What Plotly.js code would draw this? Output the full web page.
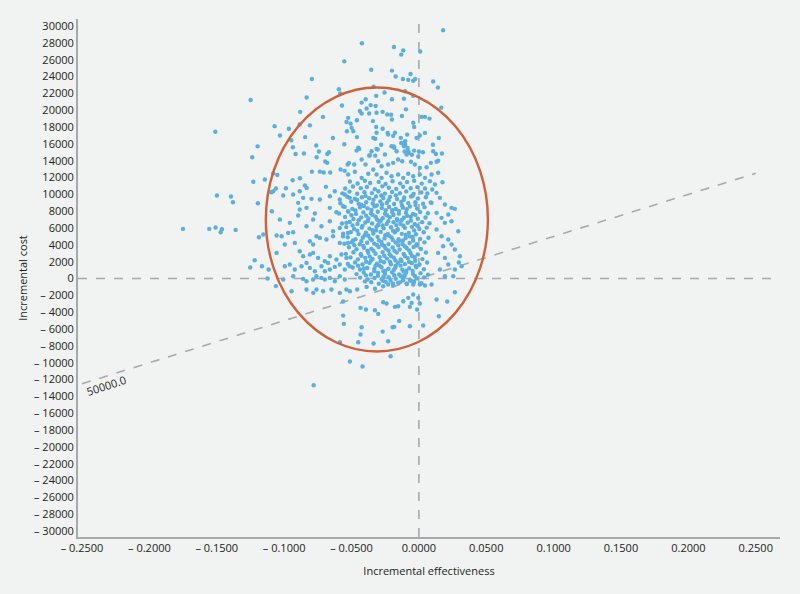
<!DOCTYPE html>
<html>
<head>
<meta charset="utf-8">
<script src="https://cdn.plot.ly/plotly-3.0.1.min.js"></script>
<style>
  html, body { margin: 0; padding: 0; background: #f1f2f2; }
  #plane { width: 800px; height: 594px; }
</style>
</head>
<body>
<div id="plane"></div>
<script>
// bootstrap replicates: [incremental effectiveness, incremental cost]
var outlierPts = [
    [-0.1751, 5900], [-0.1556, 5900], [-0.1509, 6060], [-0.1462, 5860], [-0.1471, 5500],
    [-0.136, 5780], [-0.1187, 4900], [-0.1155, 5230], [-0.1219, 2170], [-0.1252, 1310],
    [-0.1165, 1460], [-0.1115, 1070], [-0.1123, 0], [-0.1249, 21200], [-0.1511, 17430],
    [-0.1197, 15700], [-0.1237, 14400], [-0.1229, 11500], [-0.1143, 11760], [-0.1499, 9860],
    [-0.1395, 9740], [-0.138, 9070], [-0.1195, 8950], [-0.1081, 12500], [-0.1051, 12300],
    [-0.1061, 10700], [-0.1096, 10250], [-0.1091, 8000], [-0.1061, -900]
];

var upperPts = [
    [0.018, 29500], [-0.0423, 27950], [-0.0185, 27500], [-0.0116, 27100], [-0.0131, 26600],
    [0.001, 26970], [-0.0554, 25800], [-0.0354, 24800], [-0.02, 24700], [-0.0062, 24300],
    [-0.0173, 24000], [-0.0119, 23700], [-0.0079, 23600], [-0.0042, 23500], [-0.0027, 23700],
    [0.0106, 23400], [0.0141, 22700], [-0.0794, 23700], [-0.0594, 22500], [-0.0584, 22000],
    [-0.0336, 22800], [-0.0833, 21500], [-0.0881, 19800], [-0.1071, 18100], [-0.0965, 17800],
    [-0.1031, 17000], [-0.0885, 18300], [-0.0809, 18200], [-0.0712, 19200], [-0.0844, 16800],
    [-0.0935, 15600], [-0.0915, 14800], [-0.0853, 14850], [-0.0762, 15800], [-0.0742, 15100],
    [-0.0759, 14400], [-0.068, 14800], [-0.0668, 15000], [-0.0638, 16700], [-0.0554, 15950],
    [-0.0695, 13900], [-0.0794, 12700], [-0.0735, 12700], [-0.0707, 12600], [-0.0658, 12600],
    [-0.0571, 20550], [-0.0395, 21300], [-0.0317, 21700], [-0.0255, 22100], [-0.02, 21300],
    [-0.0111, 21350], [-0.0102, 22250], [-0.0042, 21700], [-0.0425, 20900], [-0.0388, 20200],
    [-0.0358, 20600], [-0.0321, 20500], [-0.0314, 19700], [-0.0369, 19600], [-0.0438, 19900],
    [-0.0425, 19600], [-0.0269, 19800], [-0.0235, 19500], [-0.0206, 19450], [-0.02, 18900],
    [-0.0126, 19300], [-0.0096, 20100], [-0.0341, 18700], [-0.0317, 18000], [-0.046, 18800],
    [-0.0537, 18600], [-0.0507, 18400], [-0.0534, 17500], [-0.0487, 17500], [-0.046, 16800],
    [-0.0042, 18500], [-0.0035, 18000], [0.002, 19200], [0.0045, 19200], [0.0079, 19000],
    [0.0045, 17300], [0.0007, 17000], [0.0148, 16700], [0.0166, 20300], [0.0104, 15900],
    [0.0171, 14850], [0.0126, 14800], [0.0143, 14000], [-0.0269, 17800], [-0.0232, 17300],
    [-0.0191, 16950], [-0.0087, 17100], [-0.0102, 16300], [-0.0111, 15700], [-0.0324, 16600],
    [-0.028, 15900], [-0.0314, 15400], [-0.0185, 15700], [-0.0131, 16100], [-0.0102, 15900],
    [-0.0084, 15500], [-0.0106, 15100], [-0.0076, 14900], [-0.0035, 15200], [0.0, 15100],
    [0.003, 15000], [-0.0005, 14500], [-0.0052, 14700], [-0.0443, 15400], [-0.0462, 15200],
    [-0.0369, 14600], [-0.0324, 14600], [-0.0947, 16430], [-0.068, 13740], [-0.0529, 13540],
    [-0.0581, 12950], [-0.0551, 12790], [-0.0937, 11680], [-0.0883, 11920], [-0.0846, 11050],
    [-0.0833, 10770], [-0.0987, 10730], [-0.069, 10890], [-0.0525, 19090], [-0.0499, 17900],
    [-0.0339, 16710], [-0.0314, 17310], [-0.0228, 17100], [-0.0178, 17310], [-0.0134, 16710],
    [-0.0017, 16710], [-0.045, 15530], [-0.0351, 15120], [-0.0306, 15320], [-0.0203, 15720],
    [-0.0183, 15530], [-0.0165, 15120], [-0.0116, 16000], [-0.0079, 15120], [-0.0091, 14730],
    [-0.0252, 14730], [-0.0364, 14650], [0.0106, 15120], [-0.0519, 13740], [-0.048, 13540],
    [-0.0425, 14140], [-0.0396, 13540], [-0.0302, 13940], [-0.0277, 13340], [-0.0228, 13540],
    [-0.0191, 13740], [-0.0154, 14140], [-0.0124, 13940], [-0.0059, 13870], [-0.003, 13540],
    [0.0007, 13150], [0.0057, 13220], [0.0089, 13740], [0.0131, 13870], [-0.0525, 12360],
    [-0.0475, 12680], [-0.0425, 11960], [-0.0376, 12440], [-0.0339, 12950], [-0.0314, 12360],
    [-0.0277, 11960], [-0.024, 12560], [-0.0203, 12150], [-0.0154, 12360], [-0.0116, 11960],
    [-0.0079, 12440], [-0.0042, 12150], [0.0007, 12360], [0.0045, 11960], [0.0094, 12360],
    [0.0143, 12560]
];

var leftPts = [
    [-0.1081, 10375], [-0.1007, 9860], [-0.0933, 9980], [-0.0884, 10375], [-0.0859, 9583],
    [-0.0896, 8989], [-0.0834, 8395], [-0.0797, 9464], [-0.0735, 9385], [-0.0661, 9780],
    [-0.0624, 10375], [-0.0587, 9385], [-0.055, 9980], [-0.0513, 9583], [-0.1032, 7009],
    [-0.0884, 8197], [-0.0896, 7484], [-0.0772, 7722], [-0.0785, 7009], [-0.0661, 8395],
    [-0.0612, 7880], [-0.0563, 8593], [-0.0526, 8000], [-0.0958, 6613], [-0.0834, 6217],
    [-0.0723, 6217], [-0.0661, 6811], [-0.0637, 5623], [-0.0587, 6019], [-0.0538, 6613],
    [-0.0526, 5425], [-0.1056, 5108], [-0.1019, 5029], [-0.097, 5425], [-0.0933, 5504],
    [-0.0921, 4237], [-0.0995, 4039], [-0.0809, 4435], [-0.0785, 4039], [-0.076, 5029],
    [-0.0735, 4831], [-0.0686, 4633], [-0.0637, 5029], [-0.0587, 4237], [-0.0563, 5029],
    [-0.0526, 4237], [-0.1056, 3049], [-0.0995, 1465], [-0.0884, 3247], [-0.0859, 2653],
    [-0.0809, 2851], [-0.0785, 3049], [-0.0748, 2455], [-0.0698, 2059], [-0.0674, 1861],
    [-0.0661, 2653], [-0.0612, 2257], [-0.0575, 2851], [-0.0538, 2455], [-0.0958, 1663],
    [-0.0921, 1069], [-0.0871, 1465], [-0.0834, 1861], [-0.0809, 1267], [-0.0772, 871],
    [-0.0723, 1465], [-0.0698, 871], [-0.0661, 1069], [-0.0624, 1386], [-0.0587, 1663],
    [-0.055, 1069], [-0.0513, 1465], [-0.1007, -119], [-0.0933, 277], [-0.0859, -40],
    [-0.0834, -317], [-0.0785, -119], [-0.076, 277], [-0.0723, 79], [-0.0698, -119],
    [-0.0661, 79], [-0.0624, -317], [-0.0587, 277], [-0.055, -119], [-0.0945, -1505],
    [-0.0834, -1307], [-0.076, -1307], [-0.0711, -1505], [-0.0649, -1307], [-0.0587, -1703],
    [-0.0538, -1307], [-0.0784, -1700]
];

var lowerPts = [
    [-0.0512, -1510], [-0.0458, -1307], [-0.0388, -990], [-0.0326, -1220], [-0.0265, -910],
    [-0.0228, -710], [-0.0191, -830], [-0.0154, -510], [-0.0091, -590], [-0.0042, -710],
    [0.0007, -710], [0.0045, -830], [0.0094, -710], [-0.0562, -2730], [-0.0433, -3480],
    [-0.0393, -3680], [-0.0326, -3770], [-0.0302, -4200], [-0.0265, -2810], [-0.024, -2970],
    [-0.0178, -3360], [-0.0154, -3290], [-0.0116, -2700], [-0.0079, -2290], [-0.0042, -1900],
    [-0.0054, -2890], [-0.0067, -3360], [-0.0005, -2290], [0.0007, -2970], [-0.0013, -3680],
    [0.0131, -2490], [0.021, -2730], [0.0267, -1630], [0.0148, -4480], [-0.0562, -4400],
    [-0.0557, -5380], [-0.0425, -5790], [-0.0433, -6650], [-0.0269, -6300], [-0.0195, -5790],
    [-0.0183, -5740], [-0.0146, -5030], [-0.0067, -5670], [0.0032, -5580], [-0.045, -7570],
    [-0.0586, -7570], [-0.0336, -7720], [-0.0228, -7450], [-0.021, -9230], [-0.0512, -9860],
    [-0.0418, -10450], [-0.0781, -12680]
];

var rightPts = [
    [0.0082, 11563], [0.0119, 11167], [0.0175, 11444], [0.0099, 10573], [0.0131, 10177],
    [0.0156, 9583], [0.0094, 8989], [0.0193, 8791], [0.0242, 8395], [0.0267, 8276],
    [0.0131, 7801], [0.0168, 7207], [0.0218, 7603], [0.0193, 6613], [0.0242, 6811],
    [0.0292, 5623], [0.0131, 5821], [0.0168, 5029], [0.0218, 4633], [0.018, 3841],
    [0.0242, 4039], [0.0267, 3445], [0.0143, 3049], [0.0193, 2455], [0.0304, 2653],
    [0.0218, 1663], [0.0156, 1069], [0.0267, 1069], [0.0317, 1465], [0.0193, 277],
    [0.0255, 277], [0.0297, 1900]
];

var corePts = [
    [-0.0512, 11520], [-0.0455, 11290], [-0.0401, 11610], [-0.0362, 11350], [-0.0298, 11480], [-0.0247, 11230],
    [-0.0196, 11560], [-0.0139, 11310], [-0.0088, 11470], [-0.0035, 11620], [0.0021, 11280],
    [-0.0547, 10690], [-0.0489, 10930], [-0.0431, 10740], [-0.0386, 10880], [-0.0327, 10620], [-0.0271, 10950],
    [-0.0223, 10780], [-0.0168, 10650], [-0.0117, 10910], [-0.0061, 10730], [-0.0012, 10860], [0.0046, 10690],
    [-0.0568, 10120], [-0.0515, 10330], [-0.0458, 10080], [-0.0404, 10260], [-0.0349, 10150], [-0.0301, 10370],
    [-0.0252, 10090], [-0.0199, 10280], [-0.0141, 10140], [-0.0094, 10350], [-0.0039, 10060], [0.0018, 10230], [0.0063, 10110],
    [-0.0531, 9710], [-0.0476, 9480], [-0.0423, 9650], [-0.0369, 9530], [-0.0318, 9760], [-0.0264, 9570],
    [-0.0215, 9690], [-0.0162, 9440], [-0.0109, 9620], [-0.0058, 9740], [-0.0007, 9510], [0.0052, 9660],
    [-0.0583, 8940], [-0.0502, 9130], [-0.0447, 8870], [-0.0391, 9060], [-0.0342, 8920], [-0.0286, 9150],
    [-0.0238, 8980], [-0.0184, 8850], [-0.0131, 9110], [-0.0079, 8960], [-0.0026, 9070], [0.0031, 8890], [0.0088, 9040],
    [-0.0551, 8510], [-0.0494, 8280], [-0.0437, 8460], [-0.0381, 8330], [-0.0329, 8570], [-0.0275, 8370],
    [-0.0221, 8490], [-0.0172, 8260], [-0.0119, 8420], [-0.0067, 8550], [-0.0013, 8310], [0.0042, 8480],
    [-0.0592, 7730], [-0.0523, 7920], [-0.0467, 7680], [-0.0412, 7860], [-0.0356, 7750], [-0.0305, 7940],
    [-0.0251, 7690], [-0.0197, 7880], [-0.0149, 7710], [-0.0096, 7830], [-0.0044, 7670], [0.0009, 7900], [0.0067, 7760],
    [-0.0548, 7310], [-0.0486, 7080], [-0.0429, 7260], [-0.0375, 7130], [-0.0321, 7350], [-0.0268, 7170],
    [-0.0216, 7290], [-0.0163, 7060], [-0.0112, 7220], [-0.0061, 7340], [-0.0008, 7110], [0.0049, 7250],
    [-0.0571, 6530], [-0.0513, 6720], [-0.0456, 6480], [-0.0398, 6660], [-0.0347, 6550], [-0.0293, 6740],
    [-0.0239, 6490], [-0.0188, 6680], [-0.0136, 6510], [-0.0083, 6630], [-0.0031, 6470], [0.0024, 6700], [0.0079, 6560],
    [-0.0539, 6110], [-0.0481, 5880], [-0.0424, 6060], [-0.0367, 5930], [-0.0315, 6150], [-0.0262, 5970],
    [-0.0207, 6090], [-0.0157, 5860], [-0.0104, 6020], [-0.0052, 6140], [0.0003, 5910], [0.0058, 6050],
    [-0.0562, 5330], [-0.0505, 5520], [-0.0448, 5280], [-0.0393, 5460], [-0.0338, 5350], [-0.0284, 5540],
    [-0.0231, 5290], [-0.0179, 5480], [-0.0127, 5310], [-0.0075, 5430], [-0.0022, 5270], [0.0036, 5500],
    [-0.0528, 4910], [-0.0471, 4680], [-0.0416, 4860], [-0.0361, 4730], [-0.0307, 4950], [-0.0255, 4770],
    [-0.0203, 4890], [-0.0151, 4660], [-0.0098, 4820], [-0.0046, 4940], [0.0009, 4710], [0.0071, 4850],
    [-0.0553, 4130], [-0.0497, 4320], [-0.0439, 4080], [-0.0384, 4260], [-0.0331, 4150], [-0.0278, 4340],
    [-0.0226, 4090], [-0.0173, 4280], [-0.0121, 4110], [-0.0069, 4230], [-0.0017, 4070], [0.0041, 4300],
    [-0.0519, 3710], [-0.0463, 3480], [-0.0408, 3660], [-0.0353, 3530], [-0.0299, 3750], [-0.0247, 3570],
    [-0.0195, 3690], [-0.0143, 3460], [-0.0091, 3620], [-0.0039, 3740], [0.0015, 3510],
    [-0.0542, 2930], [-0.0486, 3120], [-0.0431, 2880], [-0.0376, 3060], [-0.0322, 2950], [-0.0269, 3140],
    [-0.0217, 2890], [-0.0165, 3080], [-0.0113, 2910], [-0.0062, 3030], [-0.0008, 2870], [0.0052, 3100],
    [-0.0508, 2510], [-0.0453, 2280], [-0.0398, 2460], [-0.0344, 2330], [-0.0291, 2550], [-0.0238, 2370],
    [-0.0187, 2490], [-0.0135, 2260], [-0.0083, 2420], [-0.0031, 2540], [0.0026, 2310],
    [-0.0527, 1730], [-0.0474, 1920], [-0.0419, 1680], [-0.0366, 1860], [-0.0312, 1750], [-0.0259, 1940],
    [-0.0207, 1690], [-0.0156, 1880], [-0.0104, 1710], [-0.0053, 1830], [0.0004, 1670], [0.0061, 1900],
    [-0.0491, 1310], [-0.0437, 1080], [-0.0383, 1260], [-0.0331, 1130], [-0.0278, 1350], [-0.0226, 1170],
    [-0.0175, 1290], [-0.0123, 1060], [-0.0072, 1220], [-0.0019, 1340], [0.0037, 1110],
    [-0.0463, 530], [-0.0409, 720], [-0.0356, 480], [-0.0303, 660], [-0.0251, 550], [-0.0199, 740],
    [-0.0147, 490], [-0.0095, 680], [-0.0043, 510], [0.0012, 630], [0.0068, 470],
    [-0.0436, 110], [-0.0382, -120], [-0.0329, 60], [-0.0276, -70], [-0.0224, 150], [-0.0172, -30],
    [-0.0121, 90], [-0.0068, -140], [-0.0016, 20], [0.0039, 140],
    [-0.0354, -430], [-0.0298, -620], [-0.0246, -390], [-0.0193, -580], [-0.0141, -450], [-0.0089, -650],
    [-0.0036, -410], [0.0019, -560],
    [-0.0428, 8760], [-0.0352, 8150], [-0.0273, 8790], [-0.0198, 8130], [-0.0126, 8700], [-0.0392, 7470],
    [-0.0311, 7010], [-0.0237, 7520], [-0.0158, 6890], [-0.0087, 7450], [-0.0418, 6260], [-0.0343, 5730],
    [-0.0269, 6300], [-0.0192, 5690], [-0.0115, 6270], [-0.0376, 5080], [-0.0296, 4530], [-0.0221, 5070],
    [-0.0146, 4480], [-0.0068, 5010], [-0.0412, 3860], [-0.0337, 3300], [-0.0258, 3870], [-0.0181, 3290],
    [-0.0105, 3830], [-0.0365, 2630], [-0.0284, 2080], [-0.0206, 2660], [-0.0129, 2090], [-0.0051, 2680],
    [-0.0322, 1530], [-0.0249, 890], [-0.0171, 1520], [-0.0094, 920], [-0.0304, 320], [-0.0211, -250],
    [-0.0135, 310], [-0.0057, -280],
    [-0.0458, 9330], [-0.0396, 9820], [-0.0337, 9370], [-0.0279, 9870], [-0.0224, 9300], [-0.0171, 9880],
    [-0.0113, 9340], [-0.0046, 9840], [-0.0471, 8080], [-0.0408, 8620], [-0.0312, 8680], [-0.0246, 8110],
    [-0.0148, 8040], [-0.0091, 8230], [-0.0025, 8740], [-0.0501, 7510], [-0.0447, 6920], [-0.0344, 7560],
    [-0.0283, 6880], [-0.0189, 7540], [-0.0128, 6940], [-0.0026, 7560], [-0.0492, 6320], [-0.0378, 6830],
    [-0.0302, 6370], [-0.0228, 6820], [-0.0167, 6350], [-0.0059, 6880], [-0.0012, 6280], [-0.0457, 5690],
    [-0.0402, 5140], [-0.0318, 5720], [-0.0249, 5150], [-0.0162, 5740], [-0.0098, 5190], [-0.0035, 5720],
    [-0.0489, 4520], [-0.0427, 4450], [-0.0349, 4570], [-0.0273, 4020], [-0.0194, 4590], [-0.0118, 4530],
    [-0.0042, 4520], [-0.0479, 3970], [-0.0381, 3310], [-0.0311, 3980], [-0.0226, 3340], [-0.0152, 3950],
    [-0.0073, 3350], [-0.0017, 3930], [-0.0427, 2710], [-0.0355, 2140], [-0.0257, 2710], [-0.0174, 2140],
    [-0.0104, 2670], [-0.0027, 2110], [-0.0452, 1530], [-0.0392, 2000], [-0.0294, 1560], [-0.0215, 2010],
    [-0.0136, 1530], [-0.0073, 1980], [-0.0024, 1520], [-0.0408, 1200], [-0.0331, 870], [-0.0263, 880],
    [-0.0186, 1010], [-0.0113, 820], [-0.0046, 900], [-0.0393, 380], [-0.0262, 250], [-0.0183, 390],
    [-0.0106, 330], [-0.0028, 270], [-0.0266, -280], [-0.0118, -220], [-0.0401, -340]
];

// willingness-to-pay threshold line
var wtp = 50000;
var wtpEnds = [-0.25, 0.25];

// 95% confidence ellipse (centre and half axes)
var ellCentre = [-0.0312, 7010];
var ellHalf = [0.0824, 15680];

var xTicks = [-0.25, -0.2, -0.15, -0.1, -0.05, 0, 0.05, 0.1, 0.15, 0.2, 0.25];
var xTickLabels = ['\u2013 0.2500', '\u2013 0.2000', '\u2013 0.1500', '\u2013 0.1000', '\u2013 0.0500',
    '0.0000', '0.0500', '0.1000', '0.1500', '0.2000', '0.2500'];
var yTicks = [30000, 28000, 26000, 24000, 22000, 20000, 18000, 16000, 14000, 12000, 10000, 8000,
    6000, 4000, 2000, 0, -2000, -4000, -6000, -8000, -10000, -12000, -14000, -16000, -18000,
    -20000, -22000, -24000, -26000, -28000, -30000];
var yTickLabels = ['30000', '28000', '26000', '24000', '22000', '20000', '18000', '16000', '14000',
    '12000', '10000', '8000', '6000', '4000', '2000', '0', '\u2013 2000', '\u2013 4000', '\u2013 6000',
    '\u2013 8000', '\u2013 10000', '\u2013 12000', '\u2013 14000', '\u2013 16000', '\u2013 18000',
    '\u2013 20000', '\u2013 22000', '\u2013 24000', '\u2013 26000', '\u2013 28000', '\u2013 30000'];

var allPts = outlierPts.concat(upperPts, leftPts, corePts, lowerPts, rightPts);

var data = [
    {
        x: wtpEnds,
        y: wtpEnds.map(function (e) { return e * wtp; }),
        mode: 'lines',
        type: 'scatter',
        line: { color: '#a7a9ac', width: 1.6, dash: 'dash' },
        hoverinfo: 'skip'
    },
    {
        x: allPts.map(function (p) { return p[0]; }),
        y: allPts.map(function (p) { return p[1]; }),
        mode: 'markers',
        type: 'scatter',
        marker: { color: '#5aafdf', size: 4.4 }
    }
];

var grey = '#a7a9ac';

var layout = {
    width: 800,
    height: 594,
    showlegend: false,
    paper_bgcolor: '#f1f2f2',
    plot_bgcolor: '#f1f2f2',
    margin: { l: 78, r: 20, t: 19, b: 57 },
    font: { family: 'Open Sans, sans-serif', size: 11, color: '#231f20' },
    xaxis: {
        title: { text: 'Incremental effectiveness', font: { size: 11 }, standoff: 13 },
        range: [-0.253, 0.268],
        tickvals: xTicks,
        ticktext: xTickLabels,
        showgrid: false,
        zeroline: false,
        showline: true,
        linecolor: grey,
        linewidth: 2,
        ticks: ''
    },
    yaxis: {
        title: { text: 'Incremental cost', font: { size: 11 }, standoff: 4 },
        range: [-30700, 30830],
        tickvals: yTicks,
        ticktext: yTickLabels,
        showgrid: false,
        zeroline: false,
        showline: true,
        linecolor: grey,
        linewidth: 2,
        ticks: ''
    },
    shapes: [
        {
            type: 'line', xref: 'paper', yref: 'y', x0: 0, x1: 1, y0: 0, y1: 0,
            line: { color: grey, width: 1.6, dash: 'dash' }, layer: 'below'
        },
        {
            type: 'line', xref: 'x', yref: 'paper', x0: 0, x1: 0, y0: 0, y1: 1,
            line: { color: grey, width: 1.6, dash: 'dash' }, layer: 'below'
        },
        {
            type: 'circle', xref: 'x', yref: 'y',
            x0: ellCentre[0] - ellHalf[0], x1: ellCentre[0] + ellHalf[0],
            y0: ellCentre[1] - ellHalf[1], y1: ellCentre[1] + ellHalf[1],
            line: { color: '#d0603a', width: 2.4 }
        }
    ],
    annotations: [
        {
            x: -0.2322, y: -12710, xref: 'x', yref: 'y',
            text: wtp.toFixed(1), showarrow: false, textangle: -18,
            font: { size: 11, color: '#231f20' }
        }
    ]
};

var config = { responsive: false, displayModeBar: false };
Plotly.newPlot(document.getElementById('plane'), data, layout, config);
</script>
</body>
</html>
